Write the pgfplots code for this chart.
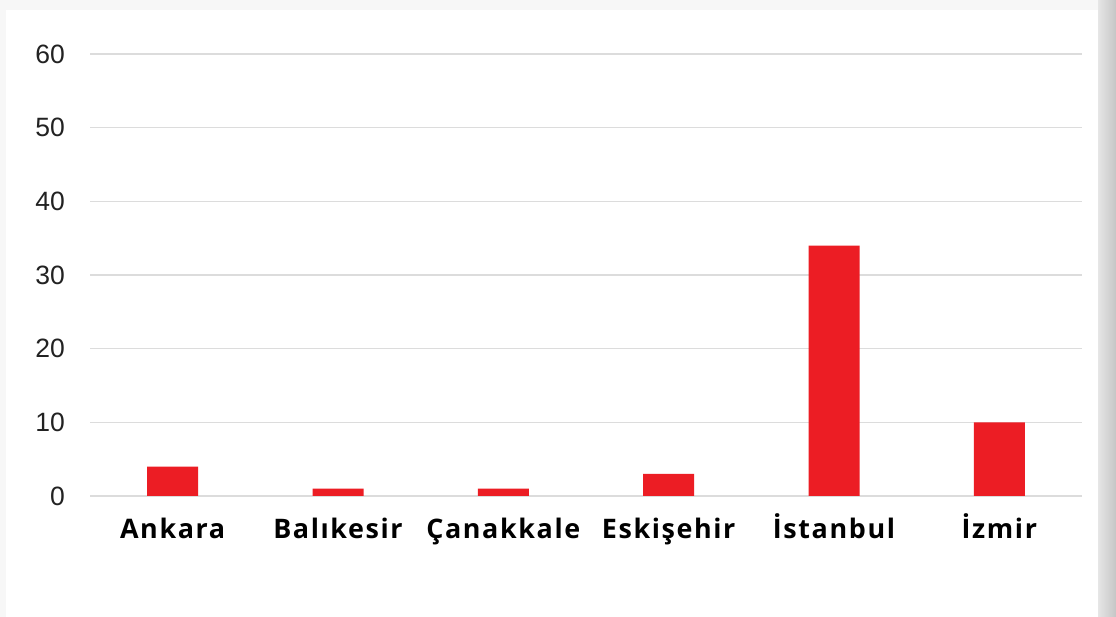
\documentclass[border=0pt]{standalone}
\usepackage{pgfplots}
\pgfplotsset{compat=1.18}
\usepackage{fontspec}
\setmainfont{Liberation Sans}
\newfontfamily\catfont[LetterSpace=6]{Open Sans}
\definecolor{barred}{RGB}{236,29,36}
\definecolor{gridgray}{RGB}{220,220,220}
\definecolor{ticktext}{RGB}{34,34,34}
\begin{document}
\begin{tikzpicture}
\useasboundingbox (0bp,0bp) rectangle (558bp,308.5bp);
\fill[gray!6] (0bp,0bp) rectangle (558bp,308.5bp);
\fill[white] (3bp,0bp) rectangle (549bp,303.5bp);
\shade[left color=gray!20, right color=gray!45] (549bp,0bp) rectangle (558bp,308.5bp);
\begin{axis}[
  at={(45bp,60.5bp)}, anchor=south west,
  width=496bp, height=221bp, scale only axis,
  xmin=-0.5, xmax=5.5, ymin=0, ymax=60,
  ytick={0,10,...,60},
  xtick={0,...,5},
  xticklabels={Ankara,Balıkesir,Çanakkale,Eskişehir,İstanbul,İzmir},
  axis line style={draw=none},
  major tick length=0pt,
  ymajorgrids,
  grid style={color=gridgray, line width=0.8bp},
  /pgf/number format/assume math mode=true,
  yticklabel style={font=\fontsize{13.3}{15}\selectfont, text=ticktext, xshift=-9bp},
  xticklabel style={font=\catfont\bfseries\fontsize{13.5}{16}\selectfont, text=black, text height=10bp, text depth=3bp, yshift=-7.5bp},
  ybar, bar width=25.5bp,
]
\addplot[fill=barred, draw=none] coordinates {(0,4) (1,1) (2,1) (3,3) (4,34) (5,10)};
\end{axis}
\end{tikzpicture}
\end{document}
